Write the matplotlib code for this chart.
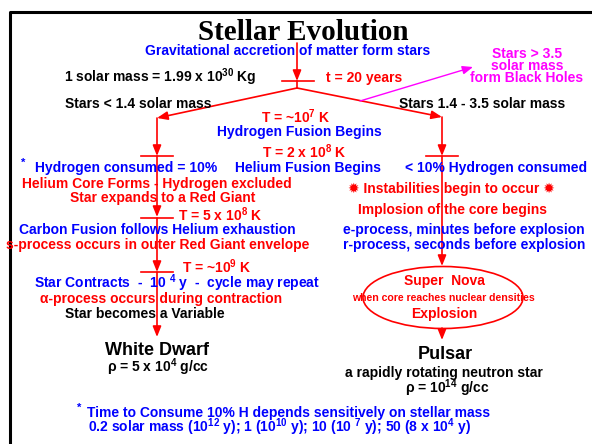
import matplotlib
matplotlib.use("Agg")
import matplotlib.pyplot as plt
from matplotlib.patches import Ellipse

plt.rcParams["font.family"] = ["Liberation Sans", "DejaVu Sans"]
plt.rcParams["font.weight"] = "bold"
plt.rcParams["mathtext.fontset"] = "custom"
plt.rcParams["mathtext.rm"] = "Liberation Sans:bold"
plt.rcParams["mathtext.it"] = "Liberation Sans:bold"
plt.rcParams["mathtext.bf"] = "Liberation Sans:bold"

# texts of the diagram
title = "Stellar Evolution"
origin = "Gravitational accretion of matter form stars"
solar_mass = "1 solar mass = 1.99 x 10$^{30}$ Kg"
start_time = "t = 20 years"
branches = ["Stars < 1.4 solar mass", "Stars 1.4 - 3.5 solar mass"]
black_holes = ["Stars > 3.5", "solar mass", "form Black Holes"]
middle = ["T = ~10$^{7}$ K", "Hydrogen Fusion Begins", "T = 2 x 10$^{8}$ K", "Helium Fusion Begins"]
left_steps = ["Hydrogen consumed = 10%",
              "Helium Core Forms - Hydrogen excluded",
              "Star expands to a Red Giant",
              "T = 5 x 10$^{8}$ K",
              "Carbon Fusion follows Helium exhaustion",
              "s-process occurs in outer Red Giant envelope",
              "T = ~10$^{9}$ K",
              "Star Contracts  -  10 $^{4}$ y  -  cycle may repeat",
              "α-process occurs during contraction",
              "Star becomes a Variable"]
right_steps = ["< 10% Hydrogen consumed",
               "✹ Instabilities begin to occur ✹",
               "Implosion of the core begins",
               "e-process, minutes before explosion",
               "r-process, seconds before explosion"]
nova = ["Super  Nova", "when core reaches nuclear densities", "Explosion"]
white_dwarf = ["White Dwarf", "ρ = 5 x 10$^{4}$ g/cc"]
pulsar = ["Pulsar", "a rapidly rotating neutron star", "ρ = 10$^{14}$ g/cc"]
footnote = ["Time to Consume 10% H depends sensitively on stellar mass",
            "0.2 solar mass (10$^{12}$ y); 1 (10$^{10}$ y); 10 (10 $^{7}$ y); 50 (8 x 10$^{4}$ y)"]

RED = "#ff0000"
BLUE = "#0000ff"
MAG = "#ff00ff"

fig = plt.figure(figsize=(5.92, 4.44), dpi=100)
ax = fig.add_axes([0, 0, 1, 1])
ax.set_xlim(0, 592)
ax.set_ylim(444, 0)
ax.axis("off")


def txt(x, y, s, color="black", size=10, ha="center", **kw):
    # y is the middle of the capitals, in pixels
    ax.text(x, y + 0.36 * size * 1.389, s, color=color, fontsize=size,
            ha=ha, va="baseline", fontweight="bold", **kw)


def arrow(p0, p1, color=RED, lw=1.2):
    ax.annotate("", xy=p1, xytext=p0,
                arrowprops=dict(arrowstyle="-|>,head_length=0.45,head_width=0.18",
                                color=color, lw=lw, mutation_scale=14,
                                shrinkA=0, shrinkB=0))


def bar(x, y, half=16):
    ax.plot([x - half, x + half], [y, y], color=RED, lw=1.2)


# frame
ax.plot([10, 10, 592], [444, 12, 12], color="black", lw=2.2, solid_capstyle="butt")

# lines and arrows
arrow((297, 43), (297, 81))
bar(298, 81)
ax.plot([297, 297], [81, 88], color=RED, lw=1.2)
arrow((297, 88), (157, 118))
arrow((297, 88), (442, 117))
arrow((360, 101), (473, 67), color=MAG, lw=1.0)

left_x = 157
arrow((left_x, 118), (left_x, 156))
bar(left_x, 156)
arrow((left_x, 156), (left_x, 217))
bar(left_x, 218)
arrow((left_x, 218), (left_x, 272))
bar(left_x, 272)
arrow((left_x, 272), (left_x, 337))

right_x = 442
arrow((right_x, 117), (right_x, 156))
bar(right_x, 156)
arrow((right_x, 156), (right_x, 266))
ax.add_patch(Ellipse((443, 297.5), 160, 62, fill=False, edgecolor=RED, lw=1.2))
arrow((right_x, 328), (right_x, 340))

# texts
ax.text(303, 40, title, fontsize=21, fontweight="bold", family="Liberation Serif",
        ha="center", va="baseline")
txt(288, 50, origin, BLUE)
txt(160, 77, solar_mass)
txt(364, 77, start_time, RED)
txt(138, 103, branches[0])
txt(482, 103, branches[1])
for s, y in zip(black_holes, [53, 65, 77]):
    txt(527, y, s, MAG)

txt(296, 118, middle[0], RED)
txt(299, 131, middle[1], BLUE)
txt(304, 153, middle[2], RED)
txt(308, 167, middle[3], BLUE)

txt(23, 162, "*", BLUE, size=8)
left_pos = [(126, 167), (157, 183), (163, 197), (220, 216), (157, 229),
            (158, 244), (217, 268), (177, 283), (161, 298), (145, 313)]
left_col = [BLUE, RED, RED, RED, BLUE, RED, RED, BLUE, RED, "black"]
for s, (x, y), c in zip(left_steps, left_pos, left_col):
    txt(x, y, s, c)

right_pos = [(496, 167), (451, 188), (452, 209), (464, 229), (464, 244)]
right_col = [BLUE, RED, RED, BLUE, BLUE]
for s, (x, y), c in zip(right_steps, right_pos, right_col):
    txt(x, y, s, c)

txt(444, 280, nova[0], RED)
txt(443, 297, nova[1], RED, size=7.6)
txt(444, 313, nova[2], RED)

txt(157, 348, white_dwarf[0], size=13)
txt(158, 367, white_dwarf[1])
txt(445, 352, pulsar[0], size=13)
txt(444, 372, pulsar[1])
txt(447, 388, pulsar[2])

txt(79, 407, "*", BLUE, size=8)
txt(87, 412, footnote[0], BLUE, ha="left")
txt(88, 427, footnote[1], BLUE, ha="left")

plt.savefig("out.png", dpi=100)
